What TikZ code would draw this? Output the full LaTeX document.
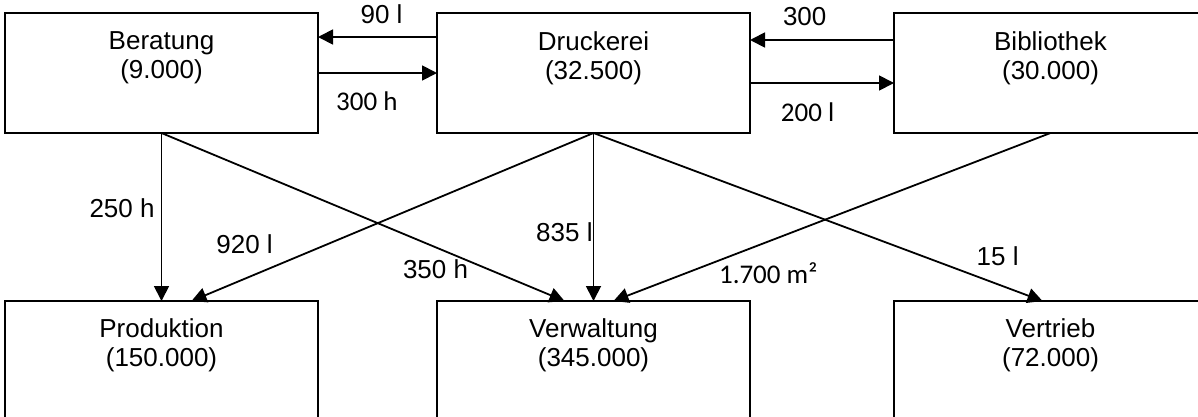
\documentclass[tikz,border=0pt]{standalone}
\usepackage{fontspec}
\setmainfont{Liberation Sans}
\newfontfamily\carlito{Carlito}
\usetikzlibrary{arrows.meta,positioning,calc}

\tikzset{
  box/.style={draw, rectangle, minimum width=313pt, minimum height=120pt, outer sep=0pt, inner sep=0pt},
  boxtext/.style={align=center, inner sep=0pt, font=\fontsize{26}{29}\selectfont},
  lbl/.style={inner sep=0pt, font=\fontsize{26}{29}\selectfont},
  lblc/.style={inner sep=0pt, font=\carlito\fontsize{27}{29}\selectfont}
}

\begin{document}
\begin{tikzpicture}[x=1pt, y=-1pt, line width=1.8pt, >={Triangle[length=15pt,width=15pt]}]
\clip (0,0) rectangle (1198,416);
% cost centres
\node[box] (ber) at (161.5,73) {};
\node[box, right=119pt of ber] (druck) {};
\node[box, right=144pt of druck] (bib) {};
\node[box, below=168pt of ber] (prod) {};
\node[box, below=168pt of druck] (verw) {};
\node[box, below=168pt of bib] (vert) {};

\node[boxtext, below=18pt of ber.north] (bertxt) {Beratung\\(9.000)};
\node[boxtext, below=18pt of druck.north] (drucktxt) {Druckerei\\(32.500)};
\node[boxtext, below=18pt of bib.north] (bibtxt) {Bibliothek\\(30.000)};
\node[boxtext, below=17pt of prod.north] (prodtxt) {Produktion\\(150.000)};
\node[boxtext, below=17pt of verw.north] (verwtxt) {Verwaltung\\(345.000)};
\node[boxtext, below=17pt of vert.north] (verttxt) {Vertrieb\\(72.000)};

% exchange between the service centres
\draw[->] ($(druck.west)+(0,-36)$) -- node[lbl, pos=0.466, above=12pt] (l90) {90 l} ($(ber.east)+(0,-36)$);
\draw[->] (ber.east) -- node[lblc, pos=0.41, below=18pt] (l300h) {300 h} (druck.west);
\draw[->] ($(bib.west)+(0,-33)$) -- node[lbl, pos=0.62, above=13pt] (l300) {300} ($(druck.east)+(0,-33)$);
\draw[->] ($(druck.east)+(0,10)$) -- node[lblc, pos=0.4, below=19pt] (l200) {200 l} ($(bib.west)+(0,10)$);

% deliveries to the main centres
\draw[->] (ber.south) -- node[lbl, pos=0.445, left=6pt] (l250) {250 h} (prod.north);
\draw[->] (ber.south) -- node[lbl, pos=0.68, below=12pt] (l350) {350 h} ($(verw.north)+(-29,0)$);
\draw[->] (druck.south) -- node[lbl, pos=0.868, above=24pt] (l920) {920 l} ($(prod.north)+(30,0)$);
\draw[->] (druck.south) -- node[lbl, pos=0.59, left=0pt] (l835) {835 l} (verw.north);
\draw[->] (druck.south) -- node[lbl, pos=0.9, above=18pt] (l15) {15 l} ($(vert.north)+(-8,0)$);
\draw[->] (bib.south) -- node[lblc, pos=0.646, below=20pt] (l1700) {1.700 m²} ($(verw.north)+(20,0)$);
\end{tikzpicture}
\end{document}
